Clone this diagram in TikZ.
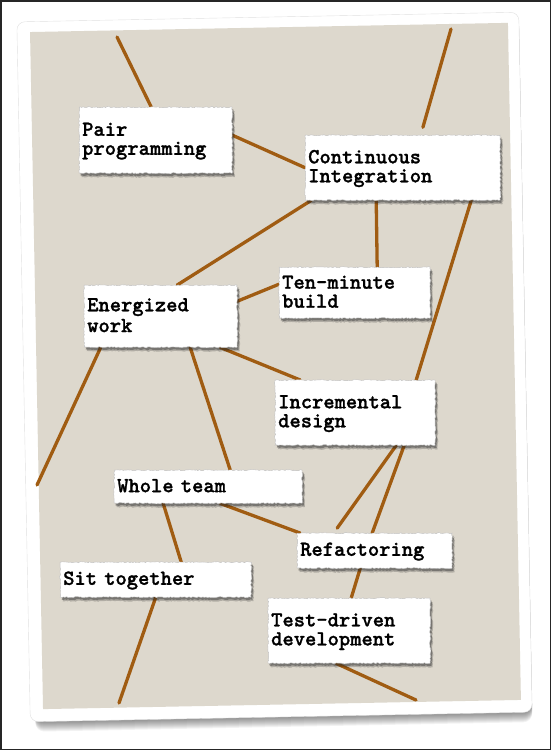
\documentclass[tikz,border=0pt]{standalone}
\usepackage{fontspec}
\usepackage{xcolor}
\usepackage{tikz}
\usetikzlibrary{shadows,decorations.pathmorphing}
\newfontfamily\notefont{lmmonolt10-bold.otf}[FakeBold=1.2]
\definecolor{cardbeige}{RGB}{221,216,205}
\definecolor{wirebrown}{RGB}{160,92,18}
\pgfdeclarelayer{cardbg}
\pgfdeclarelayer{wires}
\pgfsetlayers{cardbg,wires,main}
\newcommand{\notestrut}{\rule[-4pt]{0pt}{19pt}}

\begin{document}
\begin{tikzpicture}[x=1pt,y=-1pt,
  note/.style={anchor=north west,fill=white,draw=black!25,line width=0.4pt,inner xsep=3pt,inner ysep=0pt,align=left,
    font=\notefont\fontsize{21.5}{19}\selectfont,
    execute at begin node=\notestrut,execute at end node=\notestrut,
    decorate,decoration={random steps,segment length=1.6pt,amplitude=0.6pt},
    drop shadow={shadow xshift=2.5pt,shadow yshift=-4pt,opacity=0.2,fill=black},
    drop shadow={shadow xshift=1.5pt,shadow yshift=-2.5pt,opacity=0.45,fill=black!80}},
  wire/.style={draw=wirebrown,line width=3.3pt,line cap=round}]
  \pgfmathsetseed{7}
  \useasboundingbox (0,0) rectangle (551,750);
  % the card
  \begin{pgfonlayer}{cardbg}
  \begin{scope}[shift={(274.5,367)},rotate=1.1]
    \foreach \i in {1,...,10}
      \fill[black,opacity=0.05,rounded corners=9] (-246,-350+\i) rectangle (251,350+\i);
    \filldraw[fill=white,draw=black!12,rounded corners=8] (-251,-350) rectangle (251,350);
    \fill[cardbeige] (-238,-339.6) rectangle (240,337.6);
  \end{scope}
  \end{pgfonlayer}
  % the notes
  \foreach \nm/\x/\y/\tw/\h/\txt in {pair/79/107/147/66/{Pair\\programming},
      ci/305/135/189/65/{Continuous\\Integration},
      ener/84/285/147/62/{Energized\\work},
      ten/279/267/145/51/{Ten-minute\\build},
      incr/275/380/154/65/{Incremental\\design},
      whole/114/470/182/33/{Whole team},
      refac/297/533/149/35/{Refactoring},
      sit/60/562/185/35/{Sit together},
      tdd/268/598/156/65/{Test-driven\\development}}
    \node[note,text width=\tw pt,minimum height=\h pt] (\nm) at (\x,\y) {\txt};
  \coordinate (topA) at (117,37);
  \coordinate (topB) at (451,29);
  \coordinate (leftC) at (37,485);
  \coordinate (botD) at (119,703);
  \coordinate (botE) at (416,700);
  % the links
  \begin{pgfonlayer}{wires}
    \draw[wire] (topA) -- ([xshift=-4.5pt]pair.north);
    \draw[wire,shorten >=8pt] (topB) -- ([xshift=18pt]ci.north);
    \draw[wire] ([yshift=5pt]pair.east) -- (ci.west);
    \draw[wire] ([xshift=-91.5pt]ci.south) -- ([xshift=16.5pt]ener.north);
    \draw[wire] ([xshift=-26.5pt]ci.south) -- ([xshift=22.5pt]ten.north);
    \draw[wire] ([xshift=68.5pt]ci.south) -- ([xshift=61pt]incr.north);
    \draw[wire] ([yshift=15pt]ener.east) -- ([yshift=8.5pt]ten.west);
    \draw[wire] ([xshift=-60pt]ener.south) -- (leftC);
    \draw[wire] ([xshift=29.5pt]ener.south) -- ([xshift=22pt]whole.north);
    \draw[wire] ([xshift=59.5pt]ener.south) -- ([xshift=-55pt]incr.north);
    \draw[wire,shorten >=6pt] ([xshift=41pt]incr.south) -- ([xshift=-41pt]refac.north);
    \draw[wire] ([xshift=49pt]incr.south) -- ([xshift=-2.5pt]refac.north);
    \draw[wire] ([xshift=12pt]whole.south) -- ([xshift=3pt]refac.north west);
    \draw[wire] ([xshift=-45pt]whole.south) -- ([xshift=25.5pt]sit.north);
    \draw[wire] (sit.south) -- (botD);
    \draw[wire] ([xshift=-14.5pt]refac.south) -- ([xshift=2pt]tdd.north);
    \draw[wire] ([xshift=-13pt]tdd.south) -- (botE);
  \end{pgfonlayer}
  \draw[line width=1.5pt,black!85] (0.75,0.75) rectangle (550.25,749.25);
\end{tikzpicture}
\end{document}
